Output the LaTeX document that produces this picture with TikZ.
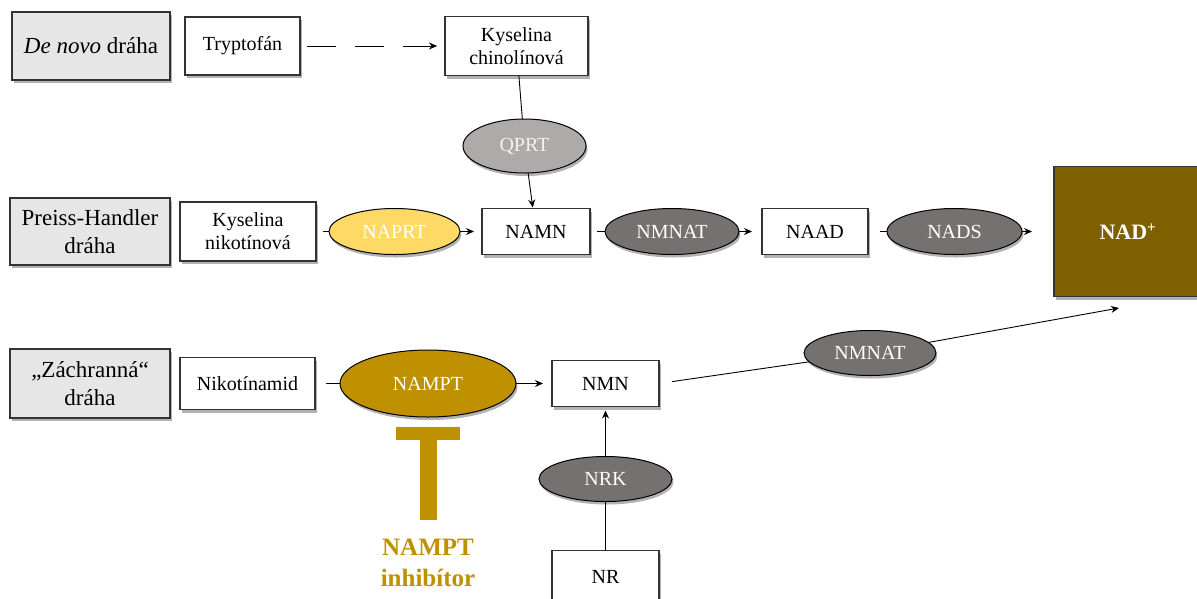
\documentclass[tikz,border=0pt]{standalone}
\usepackage{fontspec}
\setmainfont{Liberation Serif}
\usepackage{xcolor}
\definecolor{colorPathway}{HTML}{E7E6E6}
\definecolor{colorQPRT}{HTML}{AEAAAA}
\definecolor{colorNAPRT}{HTML}{FFD966}
\definecolor{colorEnzyme}{HTML}{767171}
\definecolor{colorNAMPT}{HTML}{BF9000}
\definecolor{colorNAD}{HTML}{7F6000}
\colorlet{colorBorder}{black!80}
\usepackage{tikz}
\usetikzlibrary{arrows.meta, positioning, shapes.geometric, shadows}
\tikzset{shadowed/.style={drop shadow={shadow xshift=1.5pt, shadow yshift=-3pt, opacity=.3, fill=black}}}

\begin{document}
\begin{tikzpicture}[x=1pt, y=-1pt, >={Stealth[length=8pt,width=7pt]},
  pathway/.style={draw=colorBorder, line width=1.5pt, fill=colorPathway, align=center, outer sep=0pt, inner sep=2pt, font=\fontsize{23}{28}\selectfont, shadowed},
  metabolite/.style={draw=colorBorder, line width=1.5pt, fill=white, align=center, outer sep=0pt, inner sep=2pt, font=\fontsize{20}{23}\selectfont, shadowed},
  enzyme/.style={ellipse, draw=black, line width=1pt, fill=colorEnzyme, text=white, outer sep=0pt, inner sep=1pt, font=\fontsize{20}{23}\selectfont, shadowed},
  conv/.style={draw=black, line width=0.9pt},
  into/.style={conv, shorten <=7pt},
  outof/.style={conv, ->, shorten >=8pt}]
\useasboundingbox (0,0) rectangle (1197,598);

% De novo draha
\node[pathway, minimum width=158pt, minimum height=68pt] (denovo) at (91,46) {{\itshape De novo} dráha};
\node[metabolite, minimum width=115pt, minimum height=58pt, right=15pt of denovo] (tryp) {Tryptofán};
\node[metabolite, minimum width=143pt, minimum height=59pt, right=145pt of tryp] (chino) {Kyselina\\chinolínová};
\node[enzyme, fill=colorQPRT, text=white!95!black, minimum width=123pt, minimum height=54pt] (qprt) at (524.5,146) {QPRT};

% Preiss-Handler draha
\node[pathway, minimum width=160pt, minimum height=67pt] (preiss) at (90,231.5) {Preiss-Handler\\dráha};
\node[metabolite, minimum width=136pt, minimum height=59pt, right=10pt of preiss] (kysnik) {Kyselina\\nikotínová};
\node[enzyme, fill=colorNAPRT, minimum width=131pt, minimum height=46pt, right=13pt of kysnik] (naprt) {NAPRT};
\node[metabolite, minimum width=108pt, minimum height=46pt, right=22pt of naprt] (namn) {NAMN};
\node[enzyme, minimum width=134pt, minimum height=46pt, right=15pt of namn] (nmnat1) {NMNAT};
\node[metabolite, minimum width=106pt, minimum height=46pt, right=23pt of nmnat1] (naad) {NAAD};
\node[enzyme, minimum width=135pt, minimum height=46pt, right=19pt of naad] (nads) {NADS};
\node[draw=colorBorder, line width=1.5pt, fill=colorNAD, text=white, outer sep=0pt, shadowed,
  minimum width=148pt, minimum height=130pt, right=32pt of nads, font=\fontsize{22}{26}\selectfont\bfseries] (nad) {NAD\textsuperscript{+}};

% Zachranna draha
\node[pathway, minimum width=160pt, minimum height=69pt] (zachr) at (90,383.5) {„Záchranná“\\dráha};
\node[metabolite, minimum width=135pt, minimum height=52pt, right=10pt of zachr] (nikot) {Nikotínamid};
\node[enzyme, fill=colorNAMPT, minimum width=176pt, minimum height=67pt, right=25pt of nikot] (nampt) {NAMPT};
\node[metabolite, minimum width=107pt, minimum height=46pt, right=36pt of nampt] (nmn) {NMN};
\node[enzyme, minimum width=133pt, minimum height=45pt, below=50pt of nmn] (nrk) {NRK};
\node[metabolite, minimum width=107pt, minimum height=52pt, below=49pt of nrk] (nr) {NR};
\node[enzyme, minimum width=132pt, minimum height=45pt] (nmnat2) at (870,353) {NMNAT};
\coordinate (nadin) at (1119,308);
\node[text=colorNAMPT, align=center, inner sep=3pt, font=\fontsize{25}{31}\selectfont\bfseries] (inhib) at (428,563) {NAMPT\\inhibítor};

% prechody
\draw[conv, ->, dash pattern=on 29pt off 19pt, shorten <=7pt, shorten >=8pt] (tryp) -- (chino);
\draw[conv] (chino) -- (qprt);
\draw[conv, ->, shorten >=1pt] (qprt) -- (namn);
\draw[into] (kysnik) -- (naprt);
\draw[outof] (naprt) -- (namn);
\draw[into] (namn) -- (nmnat1);
\draw[outof, shorten >=10pt] (nmnat1) -- (naad);
\draw[into, shorten <=12pt] (naad) -- (nads);
\draw[outof, shorten >=22pt] (nads) -- (nad);
\draw[into, shorten <=11pt] (nikot) -- (nampt);
\draw[outof, shorten >=9pt] (nampt) -- (nmn);
\draw[conv] (nr) -- (nrk);
\draw[outof, shorten >=4pt] (nrk) -- (nmn);
\draw[conv, shorten <=13pt] (nmn.east) -- (nmnat2);
\draw[conv, ->] (nmnat2) -- (nadin);
\draw[line width=17pt, colorNAMPT, -{Bar[width=64pt,line width=13pt]}, shorten <=16pt, shorten >=10pt] (inhib) -- (nampt);
\end{tikzpicture}
\end{document}
